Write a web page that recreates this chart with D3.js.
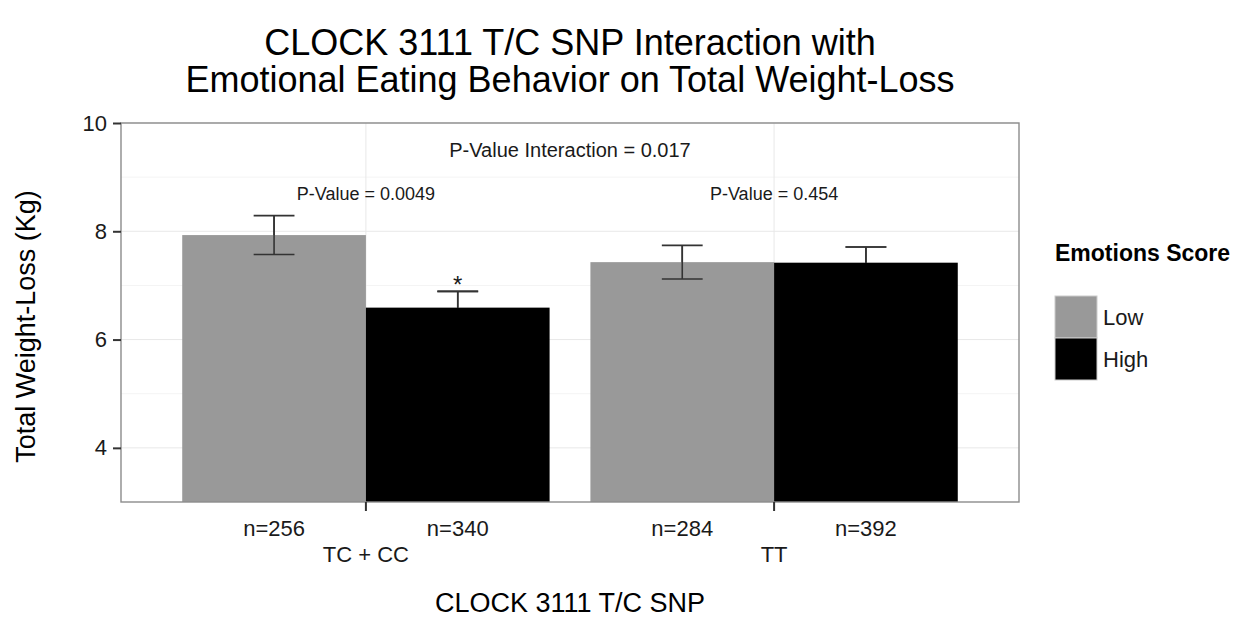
<!DOCTYPE html>
<meta charset="utf-8">
<style>
body { margin: 0; background: #fff; }
svg text { font-family: "Liberation Sans", Arial, sans-serif; }
.grid-major { stroke: #e8e8e8; stroke-width: 1; }
.grid-minor { stroke: #f4f4f4; stroke-width: 1; }
.errbar { stroke: #333; stroke-width: 1.6; fill: none; }
</style>
<body>
<div id="chart"></div>
<script src="https://d3js.org/d3.v7.min.js"></script>
<script>

// data
var genotypes = ["TC + CC", "TT"];
var scores    = ["Low", "High"];
var means     = [[7.93, 6.59], [7.43, 7.42]];   // [genotype][score]
var se        = [[0.36, 0.30], [0.31, 0.29]];
var counts    = [["n=256", "n=340"], ["n=284", "n=392"]];
var pLabels   = ["P-Value = 0.0049", "P-Value = 0.454"];
var yTicks    = [4, 6, 8, 10];
var yMinor    = [5, 7, 9];
var colors    = {"Low": "#999999", "High": "#000000"};

var data = [];
genotypes.forEach(function(g, i){
    scores.forEach(function(s, j){
        data.push({genotype: g, score: s, mean: means[i][j], se: se[i][j], n: counts[i][j]});
    });
});

var W = 1237, H = 624;
var panel = {left: 121, right: 1019, top: 123, bottom: 502};

var svg = d3.select("#chart").append("svg")
    .attr("width", W)
    .attr("height", H);

var x = d3.scaleBand()
    .domain(genotypes)
    .range([panel.left, panel.right])
    .paddingInner(0.1)
    .paddingOuter(0.15);

var xInner = d3.scaleBand()
    .domain(scores)
    .range([0, x.bandwidth()]);

var y = d3.scaleLinear()
    .domain([3, 10])
    .range([panel.bottom, panel.top]);

var center = function(g){ return x(g) + x.bandwidth()/2; };

// grid
svg.selectAll(".grid-minor")
    .data(yMinor)
    .enter().append("line")
    .attr("class", "grid-minor")
    .attr("x1", panel.left).attr("x2", panel.right)
    .attr("y1", d => y(d)).attr("y2", d => y(d));

svg.selectAll(".grid-major.h")
    .data(yTicks)
    .enter().append("line")
    .attr("class", "grid-major h")
    .attr("x1", panel.left).attr("x2", panel.right)
    .attr("y1", d => y(d)).attr("y2", d => y(d));

svg.selectAll(".grid-major.v")
    .data(genotypes)
    .enter().append("line")
    .attr("class", "grid-major v")
    .attr("x1", d => center(d)).attr("x2", d => center(d))
    .attr("y1", panel.top).attr("y2", panel.bottom);

// error bars first, bars drawn on top hide the lower half
var capW = x.step() * 0.1;
var eb = svg.selectAll(".eb")
    .data(data)
    .enter().append("g")
    .attr("class", "eb")
    .attr("transform", d => "translate(" + (x(d.genotype) + xInner(d.score) + xInner.bandwidth()/2) + ",0)");

eb.append("line").attr("class", "errbar")
    .attr("x1", 0).attr("x2", 0)
    .attr("y1", d => y(d.mean + d.se)).attr("y2", d => y(d.mean - d.se));
eb.append("line").attr("class", "errbar")
    .attr("x1", -capW/2).attr("x2", capW/2)
    .attr("y1", d => y(d.mean + d.se)).attr("y2", d => y(d.mean + d.se));
eb.append("line").attr("class", "errbar")
    .attr("x1", -capW/2).attr("x2", capW/2)
    .attr("y1", d => y(d.mean - d.se)).attr("y2", d => y(d.mean - d.se));

// bars
svg.selectAll(".bar")
    .data(data)
    .enter().append("rect")
    .attr("class", "bar")
    .attr("x", d => x(d.genotype) + xInner(d.score))
    .attr("width", xInner.bandwidth())
    .attr("y", d => y(d.mean))
    .attr("height", d => y(3) - y(d.mean))
    .attr("fill", d => colors[d.score]);

// redraw the visible part of the error bars above the bars
eb.filter(d => d.score == "High").each(function(d){
    var g = svg.append("g")
        .attr("transform", d3.select(this).attr("transform"));
    g.append("line").attr("class", "errbar")
        .attr("x1", 0).attr("x2", 0)
        .attr("y1", y(d.mean + d.se)).attr("y2", y(d.mean));
    g.append("line").attr("class", "errbar")
        .attr("x1", -capW/2).attr("x2", capW/2)
        .attr("y1", y(d.mean + d.se)).attr("y2", y(d.mean + d.se));
});
eb.filter(d => d.score == "Low").each(function(d){
    var g = svg.append("g")
        .attr("transform", d3.select(this).attr("transform"));
    g.append("line").attr("class", "errbar")
        .attr("x1", 0).attr("x2", 0)
        .attr("y1", y(d.mean + d.se)).attr("y2", y(d.mean - d.se));
    g.append("line").attr("class", "errbar")
        .attr("x1", -capW/2).attr("x2", capW/2)
        .attr("y1", y(d.mean - d.se)).attr("y2", y(d.mean - d.se));
});

// panel border
svg.append("rect")
    .attr("x", panel.left).attr("y", panel.top)
    .attr("width", panel.right - panel.left)
    .attr("height", panel.bottom - panel.top)
    .attr("fill", "none")
    .attr("stroke", "#8c8c8c")
    .attr("stroke-width", 1.4);

// annotations
svg.append("text")
    .attr("x", (panel.left + panel.right)/2)
    .attr("y", y(9.5))
    .attr("dy", "0.35em")
    .attr("text-anchor", "middle")
    .attr("font-size", 20)
    .attr("fill", "#1a1a1a")
    .text("P-Value Interaction = 0.017");

svg.selectAll(".pval")
    .data(genotypes)
    .enter().append("text")
    .attr("class", "pval")
    .attr("x", d => center(d))
    .attr("y", y(8.7))
    .attr("dy", "0.35em")
    .attr("text-anchor", "middle")
    .attr("font-size", 18)
    .attr("fill", "#1a1a1a")
    .text((d, i) => pLabels[i]);

svg.append("text")
    .attr("x", x("TC + CC") + xInner("High") + xInner.bandwidth()/2)
    .attr("y", y(7.12))
    .attr("dy", "0.6em")
    .attr("text-anchor", "middle")
    .attr("font-size", 24)
    .attr("fill", "#1a1a1a")
    .text("*");

// y axis
var yAxis = svg.append("g")
    .attr("transform", "translate(" + panel.left + ",0)")
    .call(d3.axisLeft(y).tickValues(yTicks).tickFormat(d3.format("d")).tickSize(8).tickPadding(6));
yAxis.select(".domain").remove();
yAxis.selectAll(".tick line").attr("stroke", "#333").attr("stroke-width", 2);
yAxis.selectAll(".tick text")
    .attr("font-size", 22)
    .attr("font-family", "Liberation Sans, Arial, sans-serif")
    .attr("fill", "#1a1a1a");

// x axis
var xAxis = svg.append("g")
    .attr("transform", "translate(0," + panel.bottom + ")")
    .call(d3.axisBottom(x).tickSize(9).tickFormat(""));
xAxis.select(".domain").remove();
xAxis.selectAll(".tick line").attr("stroke", "#333").attr("stroke-width", 2);

svg.selectAll(".nlab")
    .data(data)
    .enter().append("text")
    .attr("class", "nlab")
    .attr("x", d => x(d.genotype) + xInner(d.score) + xInner.bandwidth()/2)
    .attr("y", 536)
    .attr("text-anchor", "middle")
    .attr("font-size", 22)
    .attr("fill", "#1a1a1a")
    .text(d => d.n);

svg.selectAll(".glab")
    .data(genotypes)
    .enter().append("text")
    .attr("class", "glab")
    .attr("x", d => center(d))
    .attr("y", 562)
    .attr("text-anchor", "middle")
    .attr("font-size", 22)
    .attr("fill", "#1a1a1a")
    .text(d => d);

// axis titles
svg.append("text")
    .attr("x", (panel.left + panel.right)/2)
    .attr("y", 612)
    .attr("text-anchor", "middle")
    .attr("font-size", 27)
    .text("CLOCK 3111 T/C SNP");

svg.append("text")
    .attr("transform", "translate(35," + ((panel.top + panel.bottom)/2 + 14) + ") rotate(-90)")
    .attr("text-anchor", "middle")
    .attr("font-size", 27)
    .text("Total Weight-Loss (Kg)");

// title
var title = svg.append("text")
    .attr("text-anchor", "middle")
    .attr("font-size", 36);
title.append("tspan")
    .attr("x", (panel.left + panel.right)/2).attr("y", 55)
    .text("CLOCK 3111 T/C SNP Interaction with");
title.append("tspan")
    .attr("x", (panel.left + panel.right)/2).attr("y", 92)
    .text("Emotional Eating Behavior on Total Weight-Loss");

// legend
var legend = svg.append("g")
    .attr("transform", "translate(1055,0)");

legend.append("text")
    .attr("y", 261)
    .attr("font-size", 23)
    .attr("font-weight", "bold")
    .text("Emotions Score");

var keys = legend.selectAll(".key")
    .data(scores)
    .enter().append("g")
    .attr("class", "key")
    .attr("transform", (d, i) => "translate(0," + (296 + i*42) + ")");

keys.append("rect")
    .attr("width", 42).attr("height", 42)
    .attr("fill", d => colors[d])
    .attr("stroke", "#cccccc")
    .attr("stroke-width", 1);

keys.append("text")
    .attr("x", 48)
    .attr("y", 21)
    .attr("dy", "0.35em")
    .attr("font-size", 22)
    .attr("fill", "#1a1a1a")
    .text(d => d);

</script>
